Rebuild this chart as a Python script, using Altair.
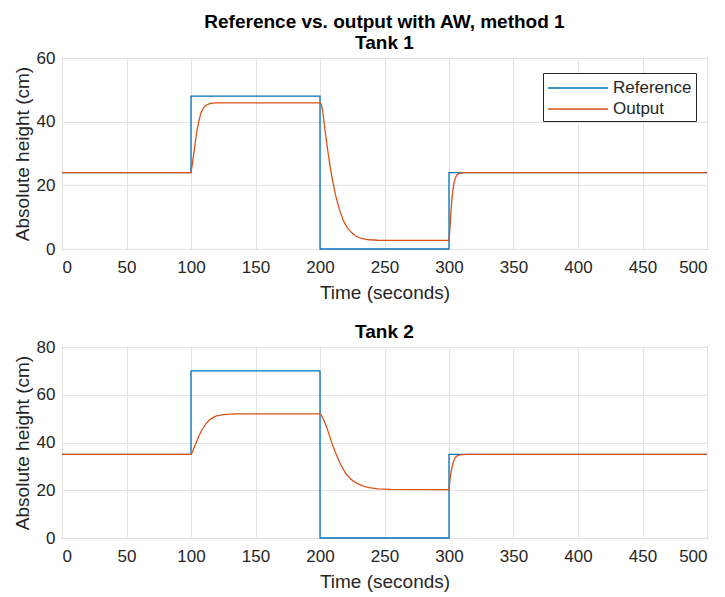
import altair as alt
import pandas as pd

# ---------------- data ----------------
series_names = ["Reference", "Output"]

ref_t = [0, 100, 200, 300, 500]
ref1_h = [24, 48, 0, 24, 24]
ref2_h = [35, 70, 0, 35, 35]

out1_t = [0, 100, 101, 102, 103, 104, 105, 106, 107, 108, 110, 112, 114, 117, 120,
          200, 201, 202, 204, 206, 208, 210, 212, 215, 218, 221, 224, 228, 232, 238, 245,
          300, 300.5, 301, 301.5, 302, 303, 304, 305, 306, 308, 311, 500]
out1_h = [24, 24, 26.5, 29.5, 32.5, 35.5, 38, 40, 41.7, 43, 44.5, 45.2, 45.6, 45.85, 45.9,
          45.9, 45.5, 43.5, 37, 31, 25.5, 21, 17, 12.5, 9, 6.8, 5.3, 4, 3.3, 2.9, 2.75,
          2.7, 5, 8.5, 11.5, 14.5, 18.5, 21, 22.4, 23.2, 23.8, 24, 24]

out2_t = [0, 100, 101, 102, 104, 106, 108, 110, 112, 114, 117, 120, 125, 135,
          200, 201, 203, 205, 207, 210, 213, 216, 220, 224, 228, 233, 238, 245, 255,
          300, 300.5, 301, 302, 303, 304, 305, 307, 310, 315, 500]
out2_h = [35, 35, 35.8, 37.3, 40, 42.6, 44.8, 46.6, 48.1, 49.3, 50.4, 51.2, 51.7, 51.95,
          52, 51.5, 49.3, 46.6, 43.5, 38.5, 34.5, 30.8, 27, 24.6, 23.1, 21.8, 21.1, 20.6, 20.4,
          20.3, 23, 25.5, 28.8, 31.2, 32.8, 33.8, 34.6, 34.9, 35, 35]

x_ticks = [0, 50, 100, 150, 200, 250, 300, 350, 400, 450, 500]
y1_ticks = [0, 20, 40, 60]
y2_ticks = [0, 20, 40, 60, 80]

colors = ["#0072BD", "#D95319"]
FONT = "Liberation Sans"
TXT = "#262626"

W, H = 645, 191

def panel(ref_h, out_t, out_h, ymax, yticks, title, ly):
    ref_df = pd.DataFrame({"t": ref_t, "h": ref_h, "s": series_names[0]})
    out_df = pd.DataFrame({"t": out_t, "h": out_h, "s": series_names[1]})
    x = alt.X("t:Q", scale=alt.Scale(domain=[0, 500], nice=False),
              axis=alt.Axis(values=x_ticks, title="Time (seconds)", format="d"))
    y = alt.Y("h:Q", scale=alt.Scale(domain=[0, ymax], nice=False),
              axis=alt.Axis(values=yticks, title="Absolute height (cm)", format="d"))
    color = alt.Color("s:N", scale=alt.Scale(domain=series_names, range=colors),
                      legend=alt.Legend(title=None, orient="none", legendX=481, legendY=ly,
                                        symbolType="M-3,0H3", symbolSize=400,
                                        symbolOffset=20, symbolStrokeWidth=1.3,
                                        labelFontSize=17, labelFont=FONT, labelColor=TXT,
                                        strokeColor=TXT, fillColor="white",
                                        padding=4, rowPadding=2, labelOffset=24))
    ref_line = alt.Chart(ref_df).mark_line(interpolate="step-after", strokeWidth=1.3).encode(
        x=x, y=y, color=color)
    out_line = alt.Chart(out_df).mark_line(strokeWidth=1.3).encode(x=x, y=y, color=color)
    return alt.layer(ref_line, out_line).properties(width=W, height=H, title=title)

p1 = panel(ref1_h, out1_t, out1_h, 60, y1_ticks,
           alt.TitleParams(["Reference vs. output with AW, method 1", "Tank 1"]), 15)
p2 = panel(ref2_h, out2_t, out2_h, 80, y2_ticks, alt.TitleParams("Tank 2"), 16)

chart = alt.vconcat(p1, p2, spacing=19).configure(
    padding={"left": 12, "top": 12, "right": 3, "bottom": 3},
    background="white",
).configure_view(
    stroke=TXT, strokeWidth=1,
).configure_axis(
    grid=True, gridColor="#e3e3e3", gridWidth=1,
    domain=False, ticks=False,
    labelFont=FONT, labelFontSize=17, labelColor=TXT,
    titleFont=FONT, titleFontSize=19, titleColor=TXT, titleFontWeight="normal",
).configure_axisX(titlePadding=8, labelPadding=10).configure_axisY(
    titlePadding=4, labelPadding=7).configure_title(
    font=FONT, fontSize=19, fontWeight="bold", color="#000000", anchor="middle",
    lineHeight=21, offset=-4,
)

chart.save("out.html", embed_options={"renderer": "svg", "actions": False})
